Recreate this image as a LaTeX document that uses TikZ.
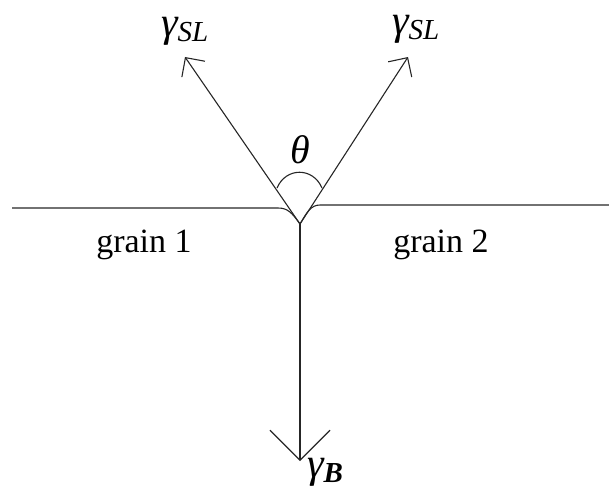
\documentclass[tikz,border=0pt]{standalone}
\usepackage{fontspec}
\setmainfont{Liberation Serif}
\usetikzlibrary{arrows.meta}
\begin{document}
\begin{tikzpicture}[x=1pt,y=-1pt,
  ln/.style={line width=1.1pt, draw=black!85},
  smallbarb/.style={-{Straight Barb[length=14pt,width=28pt,line width=1.1pt]}},
  bigbarb/.style={-{Straight Barb[length=30pt,width=60pt,line width=1.1pt]}},
  lbl/.style={inner sep=0pt, font=\fontsize{34}{40}\selectfont},
  glbl/.style={inner sep=0pt, anchor=base west}]
\useasboundingbox (0,0) rectangle (609,492);
% junction and ends
\coordinate (J) at (300,224);
\coordinate (TL) at (185,57);
\coordinate (TR) at (408,57);
\coordinate (B) at (300,461);
\coordinate (L0) at (12,208);
\coordinate (R0) at (609,205);
\coordinate (A1) at (277,188);
\coordinate (A2) at (322,188);
% surface lines with groove
\draw[ln] (L0) -- (278,208) .. controls (288,208) and (292,213) .. (J);
\draw[ln] (R0) -- (320,205) .. controls (311,205) and (307,212) .. (J);
% vectors
\draw[ln, smallbarb] (J) -- (TL);
\draw[ln, smallbarb] (J) -- (TR);
\draw[ln, bigbarb] (J) -- (B);
% angle arc
\draw[ln] (A1) .. controls (286,167) and (313,167) .. (A2);
% labels
\node[inner sep=0pt, anchor=base, font=\fontsize{40}{44}\selectfont] (th) at (300,163) {\textit{θ}};
\node[lbl, anchor=base] (g1) at (144,252) {grain 1};
\node[lbl, anchor=base] (g2) at (441,252) {grain 2};
\node[glbl] (gsl1) at (161,37)
  {{\fontsize{42}{44}\selectfont\textit{γ}}\kern-1pt\lower5pt\hbox{\fontsize{29}{30}\selectfont\textit{SL}}};
\node[glbl] (gsl2) at (392,35)
  {{\fontsize{42}{44}\selectfont\textit{γ}}\kern-1pt\lower5pt\hbox{\fontsize{29}{30}\selectfont\textit{SL}}};
\node[glbl] (gb) at (307,477)
  {{\fontsize{42}{44}\selectfont\textit{γ}}\kern-1pt\lower5pt\hbox{\fontsize{29}{30}\selectfont\textbf{\textit{B}}}};
\end{tikzpicture}
\end{document}
